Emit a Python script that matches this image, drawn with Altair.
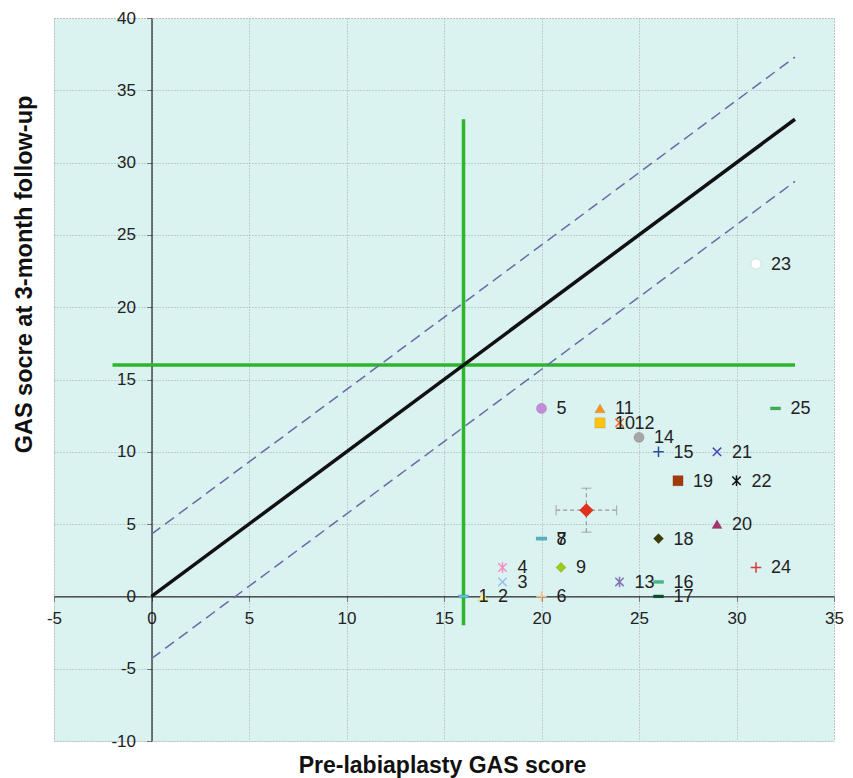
import altair as alt
import pandas as pd

# ---------------- data ----------------
POINT_IDS = [str(i) for i in range(1, 26)]
PRE_SCORE = [16, 17, 18, 18, 20, 20, 20, 20, 21, 23, 23, 24, 24, 25, 26, 26, 26, 26, 27, 29, 29, 30, 31, 31, 32]
POST_SCORE = [0, 0, 1, 2, 13, 0, 4, 4, 2, 12, 13, 12, 1, 11, 10, 1, 0, 4, 8, 5, 10, 8, 23, 2, 13]

MEAN_PRE = [22.3]
MEAN_POST = [5.96]
ERR_PRE = [1.55]
ERR_POST = [1.52]

IDENTITY_X = [0, 33]
IDENTITY_Y = [0, 33]
UPPER_Y = [4.3, 37.3]
LOWER_Y = [-4.3, 28.7]

CUTOFF = [16]
CUTOFF_FROM = [-2]
CUTOFF_TO = [33]

X_TICKS = [-5, 0, 5, 10, 15, 20, 25, 30, 35]
Y_TICKS = [-10, -5, 0, 5, 10, 15, 20, 25, 30, 35, 40]

X_TITLE = "Pre-labiaplasty GAS score"
Y_TITLE = "GAS socre at 3-month follow-up"

# ---------------- styles ----------------
FONT = "Liberation Sans"
DASH = "M-1,-0.3L1,-0.3L1,0.3L-1,0.3Z"
XMARK = "M-0.8,-0.8L0.8,0.8M-0.8,0.8L0.8,-0.8"
PLUS = "M-1,0L1,0M0,-1L0,1"
STAR = "M-0.8,-0.8L0.8,0.8M-0.8,0.8L0.8,-0.8M0,-1L0,1"

MARKER_STYLE = {
    "1": (DASH, "#5BBFD6"), "2": ("triangle-up", "#FFF39A"), "3": (XMARK, "#9BC4EA"),
    "4": (STAR, "#F48FC4"), "5": ("circle", "#C18CDB"), "6": (PLUS, "#F9C08C"),
    "7": (DASH, "#52B8CC"), "8": (DASH, "#52B8CC"), "9": ("diamond", "#9CCB1B"),
    "10": ("square", "#FFC20F"), "11": ("triangle-up", "#F7941E"), "12": (XMARK, "#F26522"),
    "13": (STAR, "#8175B8"), "14": ("circle", "#A6A6A6"), "15": (PLUS, "#2B4C9B"),
    "16": (DASH, "#3DBB84"), "17": (DASH, "#0D4D2E"), "18": ("diamond", "#3D3C06"),
    "19": ("square", "#A23A0C"), "20": ("triangle-up", "#A5346E"), "21": (XMARK, "#4B4BB5"),
    "22": (STAR, "#111111"), "23": ("circle", "#FFFFFF"), "24": (PLUS, "#D93A3A"),
    "25": (DASH, "#39B54A"),
}
STROKED = [k for k, v in MARKER_STYLE.items() if v[0] in (XMARK, PLUS, STAR)]

# ---------------- scales / axes ----------------
XSCALE = alt.Scale(domain=[-5, 35], nice=False, zero=False)
YSCALE = alt.Scale(domain=[-10, 40], nice=False, zero=False)

W, H = 780, 723

XAXIS = alt.Axis(
    values=X_TICKS, offset=-H * 0.2, grid=True, gridDash=[1, 2], gridColor="#a8a8a8",
    domainColor="black", domainWidth=1, tickColor="#777777", tickSize=5,
    labelFontSize=17, labelPadding=9, labelFlush=False, labelOverlap=False,
    labelColor="#222222", labelFont=FONT, labelExpr="'' + datum.value",
    title=X_TITLE, titleX=388, titleY=169, titleAlign="center", titleBaseline="middle",
    titleFontSize=23, titleFontWeight="bold", titleFont=FONT, titleColor="#111111",
)
YAXIS = alt.Axis(
    values=Y_TICKS, offset=-W * 5 / 40, grid=True, gridDash=[1, 2], gridColor="#a8a8a8",
    domainColor="black", domainWidth=1, tickColor="#777777", tickSize=5,
    labelFontSize=17, labelPadding=11, labelFlush=False, labelOverlap=False,
    labelColor="#222222", labelFont=FONT, labelExpr="'' + datum.value",
    title=Y_TITLE, titleX=-127, titleY=256, titleAngle=270, titleAlign="center",
    titleBaseline="middle", titleFontSize=23.5, titleFontWeight="bold", titleFont=FONT,
    titleColor="#111111",
)


def X(f):
    return alt.X(f, type="quantitative", scale=XSCALE, axis=XAXIS)


def Y(f):
    return alt.Y(f, type="quantitative", scale=YSCALE, axis=YAXIS)


pts = pd.DataFrame({"id": POINT_IDS, "x": PRE_SCORE, "y": POST_SCORE})
color_scale = alt.Scale(domain=POINT_IDS, range=[MARKER_STYLE[i][1] for i in POINT_IDS])
shape_scale = alt.Scale(domain=POINT_IDS, range=[MARKER_STYLE[i][0] for i in POINT_IDS])

vgreen = alt.Chart(pd.DataFrame({"x": CUTOFF, "y": CUTOFF_FROM, "y2": CUTOFF_TO})).mark_rule(
    color="#2DB52D", strokeWidth=3.5
).encode(x=X("x"), y=Y("y"), y2="y2")
hgreen = alt.Chart(pd.DataFrame({"y": CUTOFF, "x": CUTOFF_FROM, "x2": CUTOFF_TO})).mark_rule(
    color="#2DB52D", strokeWidth=3.5
).encode(y=Y("y"), x=X("x"), x2="x2")

ident = alt.Chart(pd.DataFrame({"x": IDENTITY_X, "y": IDENTITY_Y})).mark_line(
    color="#111111", strokeWidth=3.5
).encode(x=X("x"), y=Y("y"))
upper = alt.Chart(pd.DataFrame({"x": IDENTITY_X, "y": UPPER_Y})).mark_line(
    color="#6A6AA8", strokeWidth=1.5, strokeDash=[11, 6]
).encode(x=X("x"), y=Y("y"))
lower = alt.Chart(pd.DataFrame({"x": IDENTITY_X, "y": LOWER_Y})).mark_line(
    color="#6A6AA8", strokeWidth=1.5, strokeDash=[11, 6]
).encode(x=X("x"), y=Y("y"))

mean_df = pd.DataFrame({"x": MEAN_PRE, "y": MEAN_POST, "ex": ERR_PRE, "ey": ERR_POST})
mean_base = alt.Chart(mean_df).transform_calculate(
    xlo="datum.x - datum.ex", xhi="datum.x + datum.ex",
    ylo="datum.y - datum.ey", yhi="datum.y + datum.ey",
)
eb_h = mean_base.mark_rule(color="#999999", strokeWidth=1.2, strokeDash=[4, 3]).encode(
    x=X("xlo"), x2="xhi", y=Y("y"))
eb_v = mean_base.mark_rule(color="#999999", strokeWidth=1.2, strokeDash=[4, 3]).encode(
    y=Y("ylo"), y2="yhi", x=X("x"))
cap_l = mean_base.mark_tick(color="#999999", orient="vertical", size=10, thickness=1.2).encode(
    x=X("xlo"), y=Y("y"))
cap_r = mean_base.mark_tick(color="#999999", orient="vertical", size=10, thickness=1.2).encode(
    x=X("xhi"), y=Y("y"))
cap_b = mean_base.mark_tick(color="#999999", orient="horizontal", size=10, thickness=1.2).encode(
    x=X("x"), y=Y("ylo"))
cap_t = mean_base.mark_tick(color="#999999", orient="horizontal", size=10, thickness=1.2).encode(
    x=X("x"), y=Y("yhi"))
mean_pt = alt.Chart(mean_df).mark_point(
    shape="diamond", filled=True, color="#E0301E", size=200, opacity=1
).encode(x=X("x"), y=Y("y"))

stroked_filter = alt.FieldOneOfPredicate(field="id", oneOf=STROKED)
filled_pts = alt.Chart(pts).transform_filter(
    alt.LogicalNotPredicate(**{"not": stroked_filter})
).mark_point(
    filled=True, opacity=1, size=105, stroke="#00000033", strokeWidth=0.5
).encode(
    x=X("x"), y=Y("y"),
    fill=alt.Color("id:N", scale=color_scale, legend=None),
    shape=alt.Shape("id:N", scale=shape_scale, legend=None),
)
stroked_pts = alt.Chart(pts).transform_filter(stroked_filter).mark_point(
    filled=False, opacity=1, size=110, strokeWidth=1.5
).encode(
    x=X("x"), y=Y("y"),
    stroke=alt.Color("id:N", scale=color_scale, legend=None),
    shape=alt.Shape("id:N", scale=shape_scale, legend=None),
)
labels = alt.Chart(pts).mark_text(
    align="left", baseline="middle", dx=15, dy=1, fontSize=18, font=FONT, color="#222222"
).encode(x=X("x"), y=Y("y"), text="id:N")

chart = alt.layer(
    vgreen, hgreen, upper, lower, ident,
    eb_h, eb_v, cap_l, cap_r, cap_b, cap_t, mean_pt,
    filled_pts, stroked_pts, labels,
).resolve_scale(
    fill="shared", stroke="shared"
).properties(
    width=W, height=H,
    autosize=alt.AutoSizeParams(type="none"),
    padding={"left": 46, "top": 10, "right": 11, "bottom": 45},
    background="white",
).configure_view(
    fill="#DAF2F0", stroke="#bbbbbb", strokeDash=[1, 2]
)

chart.save("out.html", embed_options={"renderer": "svg", "actions": False})
